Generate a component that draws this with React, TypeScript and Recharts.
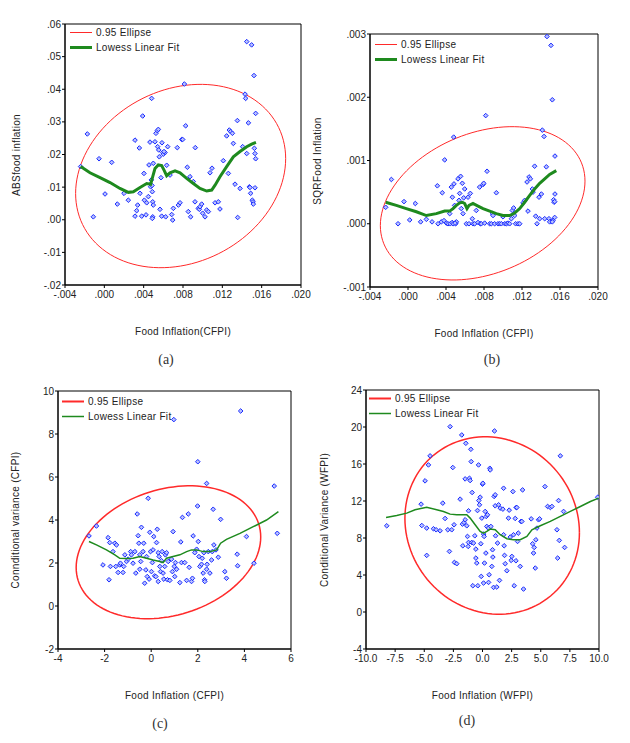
import React from "react";
import { ScatterChart, Scatter, XAxis, YAxis, ReferenceArea } from "recharts";

type Pair = [number, number];

// ---- panel (a): ABS food inflation vs food inflation (CFPI)
const absPoints: Pair[] = [
  [-0.00241, 0.0163], [-0.00173, 0.0263], [-0.00112, 0.0009], [-0.00054, 0.0187], [0.00007, 0.0079],
  [0.00075, 0.0176], [0.00132, 0.0048], [0.002, 0.0081], [0.00244, 0.006], [0.00312, 0.0011],
  [0.00312, 0.0244], [0.00329, 0.0028], [0.00339, 0.0045], [0.00356, 0.022], [0.00363, 0.0081],
  [0.0038, 0.0011], [0.0039, 0.0318], [0.00403, 0.0142], [0.00407, 0.006], [0.00424, 0.0015],
  [0.00431, 0.0052], [0.00448, 0.0071], [0.00454, 0.0168], [0.00464, 0.0238], [0.00471, 0.0101],
  [0.00478, 0.0122], [0.00481, 0.0372], [0.00485, 0.0105], [0.00488, 0.0086], [0.00492, 0.0055],
  [0.00498, 0.0045], [0.00492, 0.0009], [0.00488, 0.0004], [0.00498, 0.0173], [0.00515, 0.0239],
  [0.00525, 0.0265], [0.00539, 0.0273], [0.00549, 0.0277], [0.00542, 0.0224], [0.00553, 0.0214],
  [0.00559, 0.0193], [0.00566, 0.0032], [0.00576, 0.0129], [0.00586, 0.0236], [0.00593, 0.0206],
  [0.006, 0.0201], [0.00617, 0.0206], [0.00607, 0.0209], [0.00583, 0.0011], [0.00624, 0.0009],
  [0.00634, 0.0167], [0.00644, 0.0224], [0.00668, 0.0137], [0.00685, 0.0016], [0.00695, -0.0001],
  [0.00702, 0.0035], [0.00742, 0.0221], [0.00753, 0.0045], [0.0077, 0.0052], [0.00787, 0.0246],
  [0.00797, 0.0246], [0.00827, 0.0288], [0.00814, 0.0416], [0.00844, 0.0161], [0.00854, 0.0025],
  [0.00878, 0.0009], [0.00871, 0.0132], [0.00905, 0.0117], [0.00922, 0.0055], [0.00925, 0.0221],
  [0.00956, 0.0035], [0.00966, 0.0032], [0.00973, 0.004], [0.0099, 0.0048], [0.01, 0.002],
  [0.01024, 0.0009], [0.01041, 0.003], [0.01058, 0.0025], [0.01075, 0.0144], [0.01095, 0.0158],
  [0.01126, 0.0052], [0.01159, 0.0055], [0.01176, 0.0033], [0.0121, 0.0181], [0.01244, 0.0257],
  [0.01261, 0.0142], [0.01271, 0.0275], [0.01285, 0.027], [0.01302, 0.0265], [0.01312, 0.0234],
  [0.01329, 0.0109], [0.01353, 0.0304], [0.01356, 0.0007], [0.0138, 0.0096], [0.01407, 0.0224],
  [0.01431, 0.0385], [0.01437, 0.0372], [0.01448, 0.0546], [0.01465, 0.0297], [0.01475, 0.0101],
  [0.01481, 0.0099], [0.01488, 0.0081], [0.01498, 0.0536], [0.01505, 0.006], [0.01512, 0.0055],
  [0.01515, 0.0048], [0.01522, 0.0442], [0.01526, 0.0219], [0.01532, 0.0203], [0.01539, 0.0187],
  [0.01539, 0.0326], [0.01532, 0.0098], [0.01448, 0.0203],
];
const absLowess: Pair[] = [
  [-0.00241, 0.0163], [-0.00146, 0.0144], [-0.00044, 0.0129], [0.00058, 0.0114], [0.00159, 0.0096],
  [0.00244, 0.0084], [0.00295, 0.0086], [0.00363, 0.0099], [0.00431, 0.0111], [0.00471, 0.0109],
  [0.00492, 0.0132], [0.00515, 0.0157], [0.00549, 0.0168], [0.00583, 0.0166], [0.00607, 0.0152],
  [0.00634, 0.0135], [0.00668, 0.0144], [0.00719, 0.015], [0.0077, 0.0144], [0.00837, 0.0127],
  [0.00905, 0.0111], [0.00973, 0.0096], [0.01041, 0.0088], [0.01092, 0.0091], [0.01126, 0.0106],
  [0.01176, 0.0132], [0.01244, 0.0163], [0.01312, 0.0193], [0.0138, 0.0209], [0.01448, 0.0224],
  [0.01498, 0.0232], [0.01542, 0.0237],
];
const absEllipse = { cx: 0.00776, cy: 0.0134, hx: 0.01068, hy: 0.0281, rho: 0.19 };

// ---- panel (b): squared food inflation
const sqrPoints: Pair[] = [
  [-0.00175, 0.0007], [-0.00235, 0.00026], [-0.00105, 0], [-0.00042, 0.00035], [0.00018, 0.00006],
  [0.00077, 0.00032], [0.00133, 0.00003], [0.00193, 0.00007], [0.00253, 0.00003], [0.00309, 0.0006],
  [0.00316, 0], [0.00361, 0.00049], [0.00386, 0.00101], [0.00351, 0.00003], [0.00379, 0.00005],
  [0.00404, 0.00001], [0.00421, 0], [0.00439, 0.00016], [0.00456, 0.00058], [0.00467, 0.00042],
  [0.00481, 0.00137], [0.00484, 0.00063], [0.00491, 0.00029], [0.00502, 0], [0.00509, 0.00003],
  [0.00526, 0.00071], [0.00537, 0.00037], [0.00544, 0.00048], [0.00554, 0.00075], [0.00561, 0.00024],
  [0.00572, 0.00064], [0.00579, 0.00016], [0.00586, 0.00041], [0.00597, 0.00055], [0.00614, 0],
  [0.00632, 0.00042], [0.00642, 0], [0.00656, 0.00048], [0.00677, 0.00008], [0.00684, 0],
  [0.00702, 0], [0.00719, 0.00021], [0.00737, 0.00002], [0.00754, 0.00058], [0.00761, 0],
  [0.00772, 0], [0.0079, 0.00062], [0.00797, 0.00064], [0.00807, 0.00001], [0.00818, 0.00171],
  [0.00832, 0.00083], [0.0086, 0], [0.00877, 0], [0.00888, 0.00016], [0.00895, 0.00013],
  [0.00912, 0], [0.0093, 0.00049], [0.00947, 0], [0.00965, 0], [0.00983, 0],
  [0.01, 0.00011], [0.01018, 0], [0.01035, 0], [0.01053, 0.00001], [0.0107, 0],
  [0.01088, 0.00008], [0.01098, 0.00021], [0.01112, 0.00025], [0.01123, 0.00013], [0.01133, 0],
  [0.01158, 0], [0.01176, 0], [0.01211, 0.00033], [0.01228, 0.00037], [0.01253, 0.00066],
  [0.01263, 0.0002], [0.01274, 0.00074], [0.01288, 0.00071], [0.01309, 0.00055], [0.01316, 0.0005],
  [0.01333, 0.00091], [0.01344, 0.00012], [0.01358, 0], [0.01379, 0.00042], [0.01386, 0.00008],
  [0.01404, 0.00047], [0.01414, 0.00148], [0.01432, 0.00138], [0.01439, 0.00008], [0.01456, 0.0009],
  [0.01463, 0.00296], [0.01484, 0.00008], [0.01491, 0.00003], [0.01505, 0.00282], [0.01519, 0.00196],
  [0.01526, 0.00005], [0.01533, 0.00038], [0.01537, 0.00034], [0.01544, 0.00035], [0.01547, 0.00107],
  [0.01547, 0.00047], [0.01544, 0.0001], [0.01519, 0.00003], [0.00445, 0], [0.00465, 0.00002],
  [0.00475, 0], [0.00495, 0.00001],
];
const sqrLowess: Pair[] = [
  [-0.00235, 0.00034], [-0.00123, 0.00029], [-0.00018, 0.00024], [0.00088, 0.00019], [0.00193, 0.00013],
  [0.00298, 0.00016], [0.00386, 0.0002], [0.00439, 0.0002], [0.00474, 0.00024], [0.00509, 0.00029],
  [0.00544, 0.00033], [0.00572, 0.00034], [0.00597, 0.00032], [0.00621, 0.00024], [0.00642, 0.00029],
  [0.00684, 0.00032], [0.00737, 0.00028], [0.0079, 0.00024], [0.0086, 0.0002], [0.0093, 0.00016],
  [0.01, 0.00013], [0.0107, 0.00013], [0.01123, 0.00017], [0.01176, 0.00024], [0.01228, 0.00034],
  [0.01281, 0.00045], [0.01333, 0.00055], [0.01386, 0.00064], [0.01439, 0.00071], [0.01491, 0.00078],
  [0.01561, 0.00084],
];
const sqrEllipse = { cx: 0.00786, cy: 0.000323, hx: 0.01077, hy: 0.001212, rho: 0.29 };

// ---- panel (c): conditional variance (CFPI)
const cfpiPoints: Pair[] = [
  [-2.67, 3.26], [-2.35, 3.72], [-2.07, 1.91], [-1.85, 3.18], [-1.81, 1.22], [-1.78, 2.95], [-1.75, 1.84],
  [-1.64, 2.53], [-1.56, 2.92], [-1.52, 1.84], [-1.49, 2.84], [-1.42, 1.56], [-1.35, 1.91], [-1.32, 1.99],
  [-1.21, 1.56], [-1.18, 1.84], [-1.13, 2.38], [-1.06, 2.07], [-0.99, 2.18], [-0.88, 2.53], [-0.85, 2.38],
  [-0.78, 1.99], [-0.7, 2.53], [-0.66, 1.53], [-0.6, 4.28], [-0.56, 3.27], [-0.53, 2.92], [-0.49, 2.38],
  [-0.49, 1.71], [-0.45, 2.07], [-0.42, 3.66], [-0.35, 2.53], [-0.32, 2.92], [-0.28, 1.06], [-0.23, 1.68],
  [-0.2, 2.3], [-0.17, 1.37], [-0.13, 5.01], [-0.09, 1.25], [-0.06, 3.43], [-0.03, 2.53], [0.01, 1.6],
  [0.05, 2.02], [0.08, 2.61], [0.11, 3.23], [0.15, 1.4], [0.2, 1.37], [0.23, 2.95], [0.26, 3.57],
  [0.3, 1.14], [0.3, 2.48], [0.34, 2.3], [0.37, 1.84], [0.4, 1.6], [0.44, 2.11], [0.47, 2.53],
  [0.51, 1.53], [0.54, 1.25], [0.58, 1.84], [0.61, 2.38], [0.66, 2.48], [0.7, 1.22], [0.73, 2.07],
  [0.8, 1.19], [0.87, 2.18], [0.91, 1.6], [0.94, 3.46], [0.97, 8.67], [0.99, 1.84], [1.01, 1.37],
  [1.04, 2.02], [1.09, 1.71], [1.23, 1.09], [1.27, 2.98], [1.3, 2.02], [1.34, 4.12], [1.44, 2.02],
  [1.52, 1.19], [1.59, 4.28], [1.63, 1.8], [1.73, 1.14], [1.77, 1.29], [1.8, 3.26], [1.87, 2.48],
  [1.95, 2.64], [1.99, 4.65], [2.0, 6.71], [2.02, 3.0], [2.05, 2.3], [2.09, 1.84], [2.16, 1.94],
  [2.19, 2.22], [2.23, 1.53], [2.26, 2.48], [2.29, 1.22], [2.3, 1.14], [2.38, 1.71], [2.4, 1.94],
  [2.45, 2.53], [2.52, 1.53], [2.59, 2.14], [2.62, 2.53], [2.66, 4.5], [2.69, 2.84], [2.78, 2.61],
  [2.88, 2.27], [2.98, 4.03], [3.16, 1.6], [3.23, 1.29], [3.69, 2.41], [3.71, 1.87], [3.84, 9.07],
  [4.09, 3.23], [4.41, 1.99], [5.28, 5.58], [5.41, 3.38], [2.38, 5.7],
];
const cfpiLowess: Pair[] = [
  [-2.67, 3.0], [-2.35, 2.84], [-1.92, 2.61], [-1.56, 2.38], [-1.35, 2.22], [-1.06, 2.21], [-0.78, 2.22],
  [-0.49, 2.3], [-0.2, 2.22], [0.08, 2.14], [0.37, 2.07], [0.51, 2.02], [0.66, 2.22], [0.94, 2.3],
  [1.23, 2.38], [1.52, 2.53], [1.73, 2.61], [1.95, 2.61], [2.23, 2.53], [2.52, 2.53], [2.81, 2.61],
  [2.98, 2.92], [3.23, 3.1], [3.81, 3.38], [4.38, 3.69], [4.95, 4.0], [5.46, 4.39],
];
const cfpiEllipse = { cx: 0.74, cy: 2.5, hx: 3.96, hy: 3.09, rho: 0.23 };

// ---- panel (d): conditional variance (WFPI)
const wfpiPoints: Pair[] = [
  [-8.22, 9.32], [-5.27, 11.66], [-5.21, 9.35], [-4.93, 14.18], [-4.79, 9.07], [-4.79, 6.12], [-4.64, 15.9],
  [-4.5, 16.88], [-4.21, 9.0], [-3.98, 8.89], [-3.64, 8.78], [-3.41, 11.77], [-3.21, 10.11], [-2.98, 8.89],
  [-2.84, 6.55], [-2.78, 20.04], [-2.64, 8.89], [-2.55, 15.62], [-2.44, 9.43], [-2.41, 5.36], [-2.21, 5.22],
  [-1.92, 12.2], [-1.78, 19.14], [-1.72, 9.5], [-1.69, 7.16], [-1.58, 9.68], [-1.49, 9.97], [-1.49, 14.39],
  [-1.43, 18.24], [-1.35, 9.32], [-1.29, 8.17], [-1.23, 7.09], [-1.2, 7.52], [-1.2, 10.94], [-1.12, 14.46],
  [-1.06, 14.21], [-1.0, 17.59], [-0.97, 16.26], [-0.92, 7.52], [-0.89, 12.92], [-0.83, 2.84], [-0.77, 7.45],
  [-0.66, 8.24], [-0.57, 6.8], [-0.57, 5.83], [-0.49, 5.29], [-0.43, 10.97], [-0.4, 2.84], [-0.34, 15.9],
  [-0.32, 12.05], [-0.26, 11.59], [-0.2, 12.41], [-0.14, 7.38], [-0.11, 3.85], [-0.06, 10.15], [0.0, 13.82],
  [0.03, 13.92], [0.09, 8.42], [0.09, 3.13], [0.14, 8.17], [0.17, 5.29], [0.23, 10.87], [0.29, 6.37],
  [0.32, 10.33], [0.37, 9.25], [0.43, 10.51], [0.52, 9.07], [0.52, 3.2], [0.57, 4.03], [0.63, 15.54],
  [0.66, 15.36], [0.72, 9.25], [0.8, 4.93], [0.86, 6.73], [0.89, 5.94], [0.95, 2.66], [1.0, 12.49],
  [1.03, 19.57], [1.09, 11.48], [1.09, 12.67], [1.12, 8.24], [1.23, 2.7], [1.29, 7.45], [1.38, 11.59],
  [1.46, 3.42], [1.52, 11.23], [1.75, 11.12], [1.81, 13.38], [1.81, 8.35], [1.86, 7.16], [1.89, 6.12],
  [1.95, 5.22], [2.09, 4.46], [2.23, 10.15], [2.29, 11.01], [2.38, 8.1], [2.46, 5.58], [2.52, 6.01],
  [2.61, 13.02], [2.66, 8.35], [2.72, 2.84], [2.81, 10.11], [2.87, 5.54], [2.89, 11.3], [2.95, 11.3],
  [3.01, 7.63], [3.07, 8.53], [3.24, 4.93], [3.3, 9.79], [3.38, 9.79], [3.44, 13.2], [3.52, 2.48],
  [4.18, 10.07], [4.3, 7.38], [4.38, 6.37], [4.44, 6.98], [4.53, 4.75], [4.58, 7.81], [4.67, 9.07],
  [4.81, 9.97], [4.9, 10.07], [5.36, 13.56], [5.59, 11.41], [5.82, 11.3], [5.96, 11.41], [6.39, 8.89],
  [6.45, 5.83], [6.53, 12.05], [6.59, 7.74], [6.68, 16.88], [6.96, 10.87], [7.05, 6.98], [9.89, 12.41],
];
const wfpiLowess: Pair[] = [
  [-8.28, 10.22], [-7.36, 10.43], [-6.5, 10.69], [-5.79, 11.05], [-4.79, 11.33], [-3.93, 11.05],
  [-3.35, 10.87], [-2.78, 10.58], [-2.21, 10.51], [-1.35, 10.51], [-1.06, 10.15], [-0.63, 9.43],
  [-0.2, 8.71], [0.09, 8.53], [0.37, 8.71], [0.66, 8.96], [1.09, 8.89], [1.52, 8.35], [2.09, 7.92],
  [2.66, 7.81], [3.24, 7.81], [3.81, 8.17], [4.24, 8.89], [4.96, 9.32], [5.82, 9.79], [6.68, 10.33],
  [7.54, 10.87], [8.4, 11.41], [9.26, 11.95], [9.97, 12.31],
];
const wfpiEllipse = { cx: 0.83, cy: 9.35, hx: 7.49, hy: 9.59, rho: -0.08 };

// ---- axis ticks
const cfpiDecTicks = [-0.004, 0, 0.004, 0.008, 0.012, 0.016, 0.02];
const absTicks = [-0.02, -0.01, 0, 0.01, 0.02, 0.03, 0.04, 0.05, 0.06];
const sqrTicks = [-0.001, 0, 0.001, 0.002, 0.003];
const cfpiXTicks = [-4, -2, 0, 2, 4, 6];
const cfpiYTicks = [-2, 0, 2, 4, 6, 8, 10];
const wfpiXTicks = [-10, -7.5, -5, -2.5, 0, 2.5, 5, 7.5, 10];
const wfpiYTicks = [-4, 0, 4, 8, 12, 16, 20, 24];

const FONT = "'Liberation Sans', Arial, sans-serif";
const RED = "#ff2a2a";
const GREEN = "#1e8a1e";
const BLUE = "#1a2cff";

const toXY = (arr: Pair[]) => arr.map(([x, y]) => ({ x, y }));

// points of the 0.95 ellipse from its centre, half-extents and tilt (correlation)
function ellipsePoints(e: { cx: number; cy: number; hx: number; hy: number; rho: number }) {
  const out: { x: number; y: number }[] = [];
  const k = Math.sqrt(1 - e.rho * e.rho);
  for (let i = 0; i <= 120; i++) {
    const t = (i / 120) * Math.PI * 2;
    out.push({
      x: e.cx + e.hx * Math.cos(t),
      y: e.cy + e.hy * (e.rho * Math.cos(t) + k * Math.sin(t)),
    });
  }
  return out;
}

const dec = (d: number) => (v: number) => v.toFixed(d).replace(/^(-?)0\./, "$1.");
const fixed = (d: number) => (v: number) => v.toFixed(d);

const Diamond = (props: any) => {
  const { cx, cy } = props;
  if (cx == null || cy == null) return <g />;
  const s = 2.3;
  return (
    <path
      d={`M${cx},${cy - s}L${cx + s},${cy}L${cx},${cy + s}L${cx - s},${cy}Z`}
      fill="#b8c0ff"
      stroke={BLUE}
      strokeWidth={1}
    />
  );
};
const NoDot = () => <g />;

interface PanelProps {
  plot: { l: number; r: number; t: number; b: number };
  xDomain: [number, number];
  yDomain: [number, number];
  xTicks: number[];
  yTicks: number[];
  fmtX: (v: number) => string;
  fmtY: (v: number) => string;
  points: Pair[];
  lowess: Pair[];
  ellipse: { cx: number; cy: number; hx: number; hy: number; rho: number };
  ellipseWidth: number;
  lowessWidth: number;
  yTitle: string;
  yTitleX: number;
  xTitle: string;
  caption: string;
  captionPos: [number, number];
  legendPos: [number, number];
  legendRed: number;
  legendGreen: number;
}

function Panel(p: PanelProps) {
  const { plot } = p;
  const w = plot.r - plot.l + 60;
  const h = plot.b - plot.t + 40;
  const midX = (plot.l + plot.r) / 2;
  const midY = (plot.t + plot.b) / 2;
  const tick = { fontSize: 10, fill: "#222", fontFamily: FONT };
  return (
    <>
      <div style={{ position: "absolute", left: plot.l - 50, top: plot.t - 10 }}>
        <ScatterChart width={w} height={h} margin={{ top: 10, right: 10, left: 0, bottom: 0 }}>
          <XAxis
            type="number"
            dataKey="x"
            domain={p.xDomain}
            ticks={p.xTicks}
            interval={0}
            tickFormatter={p.fmtX}
            allowDataOverflow
            height={30}
            tick={tick}
            tickSize={3}
            tickMargin={3}
            stroke="#000"
          />
          <YAxis
            type="number"
            dataKey="y"
            domain={p.yDomain}
            ticks={p.yTicks}
            interval={0}
            tickFormatter={p.fmtY}
            allowDataOverflow
            width={50}
            tick={tick}
            tickSize={3}
            tickMargin={1}
            stroke="#000"
          />
          <ReferenceArea
            x1={p.xDomain[0]}
            x2={p.xDomain[1]}
            y1={p.yDomain[0]}
            y2={p.yDomain[1]}
            fill="none"
            stroke="#000"
            strokeWidth={1}
          />
          <Scatter
            data={ellipsePoints(p.ellipse)}
            line={{ stroke: RED, strokeWidth: p.ellipseWidth }}
            shape={NoDot}
            isAnimationActive={false}
          />
          <Scatter data={toXY(p.points)} shape={Diamond} isAnimationActive={false} />
          <Scatter
            data={toXY(p.lowess)}
            line={{ stroke: GREEN, strokeWidth: p.lowessWidth }}
            shape={NoDot}
            isAnimationActive={false}
          />
        </ScatterChart>
      </div>
      {/* legend */}
      <div style={{ position: "absolute", left: p.legendPos[0], top: p.legendPos[1] - 7, fontSize: 10, fontFamily: FONT, color: "#222", lineHeight: "15px", letterSpacing: 0.3 }}>
        <div style={{ display: "flex", alignItems: "center" }}>
          <svg width={26} height={15}>
            <line x1={0} x2={22} y1={7.5} y2={7.5} stroke={RED} strokeWidth={p.legendRed} />
          </svg>
          <span>0.95 Ellipse</span>
        </div>
        <div style={{ display: "flex", alignItems: "center" }}>
          <svg width={26} height={15}>
            <line x1={0} x2={22} y1={7.5} y2={7.5} stroke={GREEN} strokeWidth={p.legendGreen} />
          </svg>
          <span>Lowess Linear Fit</span>
        </div>
      </div>
      {/* axis titles */}
      <div
        style={{
          position: "absolute",
          left: p.yTitleX,
          top: midY,
          transform: "translate(-50%, -50%) rotate(-90deg)",
          whiteSpace: "nowrap",
          fontSize: 10,
          fontFamily: FONT,
          color: "#222",
          letterSpacing: 0.3,
        }}
      >
        {p.yTitle}
      </div>
      <div
        style={{
          position: "absolute",
          left: midX,
          top: plot.b + 46,
          transform: "translate(-50%, -50%)",
          whiteSpace: "nowrap",
          fontSize: 10,
          fontFamily: FONT,
          color: "#222",
          letterSpacing: 0.3,
        }}
      >
        {p.xTitle}
      </div>
      <div
        style={{
          position: "absolute",
          left: p.captionPos[0],
          top: p.captionPos[1],
          transform: "translate(-50%, -50%)",
          fontSize: 14,
          fontFamily: "'Liberation Serif', 'Times New Roman', serif",
          color: "#333",
        }}
      >
        {p.caption}
      </div>
    </>
  );
}

export default function App() {
  return (
    <div style={{ position: "absolute", left: 0, top: 0, width: 630, height: 743, background: "#fff", overflow: "hidden" }}>
      <Panel
        plot={{ l: 65, r: 301, t: 24, b: 285 }}
        xDomain={[-0.004, 0.02]}
        yDomain={[-0.02, 0.06]}
        xTicks={cfpiDecTicks}
        yTicks={absTicks}
        fmtX={dec(3)}
        fmtY={dec(2)}
        points={absPoints}
        lowess={absLowess}
        ellipse={absEllipse}
        ellipseWidth={1}
        lowessWidth={3}
        yTitle="ABSfood inflation"
        yTitleX={16}
        xTitle="Food Inflation(CFPI)"
        caption="(a)"
        captionPos={[166, 360]}
        legendPos={[70, 32]}
        legendRed={1}
        legendGreen={3}
      />
      <Panel
        plot={{ l: 370, r: 598, t: 34, b: 287 }}
        xDomain={[-0.004, 0.02]}
        yDomain={[-0.001, 0.003]}
        xTicks={cfpiDecTicks}
        yTicks={sqrTicks}
        fmtX={dec(3)}
        fmtY={dec(3)}
        points={sqrPoints}
        lowess={sqrLowess}
        ellipse={sqrEllipse}
        ellipseWidth={1}
        lowessWidth={3}
        yTitle="SQRFood Inflation"
        yTitleX={317}
        xTitle="Food Inflation (CFPI)"
        caption="(b)"
        captionPos={[492, 360]}
        legendPos={[375, 44]}
        legendRed={1}
        legendGreen={3}
      />
      <Panel
        plot={{ l: 58, r: 291, t: 391, b: 649 }}
        xDomain={[-4, 6]}
        yDomain={[-2, 10]}
        xTicks={cfpiXTicks}
        yTicks={cfpiYTicks}
        fmtX={fixed(0)}
        fmtY={fixed(0)}
        points={cfpiPoints}
        lowess={cfpiLowess}
        ellipse={cfpiEllipse}
        ellipseWidth={1.5}
        lowessWidth={1.5}
        yTitle="Connditional variance (CFPI)"
        yTitleX={15}
        xTitle="Food Inflation (CFPI)"
        caption="(c)"
        captionPos={[160, 724]}
        legendPos={[62, 401]}
        legendRed={2}
        legendGreen={1.5}
      />
      <Panel
        plot={{ l: 366, r: 599, t: 390, b: 649 }}
        xDomain={[-10, 10]}
        yDomain={[-4, 24]}
        xTicks={wfpiXTicks}
        yTicks={wfpiYTicks}
        fmtX={fixed(1)}
        fmtY={fixed(0)}
        points={wfpiPoints}
        lowess={wfpiLowess}
        ellipse={wfpiEllipse}
        ellipseWidth={1.5}
        lowessWidth={1.5}
        yTitle="Conditional Variance (WFPI)"
        yTitleX={324}
        xTitle="Food Inflation (WFPI)"
        caption="(d)"
        captionPos={[467, 721]}
        legendPos={[369, 398]}
        legendRed={2}
        legendGreen={1.5}
      />
    </div>
  );
}
